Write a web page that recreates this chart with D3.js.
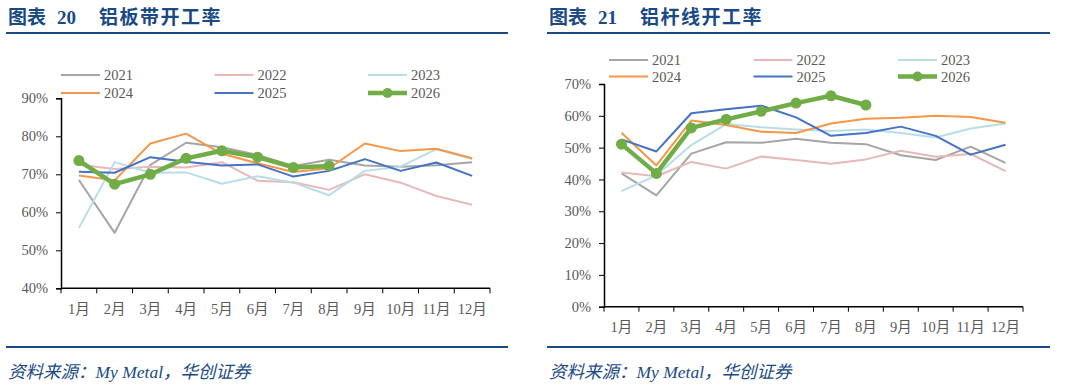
<!DOCTYPE html>
<html>
<head>
<meta charset="utf-8">
<script src="https://cdn.jsdelivr.net/npm/d3@7"></script>
<style>
  body { margin: 0; background: #fff; }
  svg text { font-family: "Liberation Serif", "Noto Sans CJK SC", serif; }
</style>
</head>
<body>
<div id="chart"></div>
<script>
// months on the x axis
const months = ["1月", "2月", "3月", "4月", "5月", "6月", "7月", "8月", "9月", "10月", "11月", "12月"];
const years = ["2021", "2022", "2023", "2024", "2025", "2026"];
const colors = ["#A5A5A5", "#E6B9B8", "#B7DEE8", "#F79646", "#4472C4", "#70AD47"];

// 图表20 铝板带开工率 (%)
const sheet2021 = [68.5, 54.6, 72.5, 78.3, 77.1, 75.1, 72.2, 73.8, 72.3, 72.0, 72.4, 73.2];
const sheet2022 = [72.5, 71.4, 72.0, 71.8, 73.2, 68.3, 67.9, 65.9, 70.0, 67.8, 64.3, 62.0];
const sheet2023 = [55.9, 73.2, 70.4, 70.5, 67.5, 69.5, 67.8, 64.5, 70.9, 72.0, 76.6, 74.0];
const sheet2024 = [69.7, 68.4, 78.1, 80.7, 75.4, 72.9, 70.6, 71.6, 78.1, 76.1, 76.7, 74.2];
const sheet2025 = [70.7, 70.4, 74.5, 73.3, 72.3, 72.6, 69.4, 70.9, 74.0, 70.9, 73.1, 69.6];
const sheet2026 = [73.6, 67.4, 70.0, 74.2, 76.2, 74.5, 71.8, 72.2];

// 图表21 铝杆线开工率 (%)
const rod2021 = [41.9, 35.0, 48.1, 51.7, 51.5, 52.8, 51.5, 51.1, 47.6, 46.1, 50.3, 45.2];
const rod2022 = [42.2, 41.0, 45.5, 43.4, 47.2, 46.1, 44.9, 46.3, 49.0, 47.1, 48.0, 42.6];
const rod2023 = [36.3, 41.3, 50.8, 57.4, 56.4, 55.7, 55.2, 55.7, 54.6, 53.2, 56.0, 57.6];
const rod2024 = [54.7, 44.4, 58.5, 57.1, 55.0, 54.6, 57.6, 59.1, 59.4, 60.0, 59.6, 57.8];
const rod2025 = [52.6, 48.8, 60.8, 62.1, 63.2, 59.5, 53.7, 54.6, 56.6, 53.7, 47.8, 50.9];
const rod2026 = [51.1, 41.9, 56.2, 58.9, 61.4, 64.0, 66.3, 63.4];

const sheetTicks = [40, 50, 60, 70, 80, 90];
const rodTicks = [0, 10, 20, 30, 40, 50, 60, 70];

const navy = "#1A4A85";
const grey = "#595959";

const svg = d3.select("#chart").append("svg")
    .attr("width", 1066)
    .attr("height", 388);

function drawPanel(cfg) {
    let g = svg.append("g");

    // header
    g.append("text")
        .attr("x", cfg.titleX).attr("y", 24)
        .attr("fill", navy).attr("font-size", 19).attr("font-weight", "bold")
        .text("图表");
    g.append("text")
        .attr("x", cfg.titleX + 49).attr("y", 24)
        .attr("fill", navy).attr("font-size", 19).attr("font-weight", "bold")
        .text(cfg.titleNo);
    g.append("text")
        .attr("x", cfg.titleX + 91).attr("y", 24)
        .attr("fill", navy).attr("font-size", 19).attr("font-weight", "bold")
        .attr("letter-spacing", 1.5)
        .text(cfg.title);
    g.append("line")
        .attr("x1", cfg.ruleX0).attr("x2", cfg.ruleX1)
        .attr("y1", 33).attr("y2", 33)
        .attr("stroke", navy).attr("stroke-width", 2);
    g.append("line")
        .attr("x1", cfg.ruleX0).attr("x2", cfg.ruleX1)
        .attr("y1", 347).attr("y2", 347)
        .attr("stroke", navy).attr("stroke-width", 2);
    g.append("text")
        .attr("x", cfg.titleX).attr("y", 378)
        .attr("fill", navy).attr("font-size", 17.5).attr("font-style", "italic")
        .text("资料来源：My Metal，华创证券");

    let x = d3.scaleBand().domain(months).range([cfg.x0, cfg.x1]);
    let y = d3.scaleLinear().domain(cfg.domain).range([cfg.y0, cfg.y1]);

    // x axis
    let xAxis = g.append("g")
        .attr("transform", "translate(0," + cfg.y0 + ")")
        .call(d3.axisBottom(x).tickSize(0).tickPadding(15));
    xAxis.select(".domain").remove();
    xAxis.selectAll("text").attr("font-size", 14.5).attr("fill", grey)
        .attr("font-family", "'Liberation Serif','Noto Sans CJK SC',serif");
    xAxis.append("line")
        .attr("x1", cfg.x0).attr("x2", cfg.x1)
        .attr("stroke", "#000").attr("stroke-width", 1.5);
    xAxis.selectAll("line.tk")
        .data(d3.range(13))
        .enter().append("line")
        .attr("class", "tk")
        .attr("x1", (d) => cfg.x0 + d * x.step())
        .attr("x2", (d) => cfg.x0 + d * x.step())
        .attr("y1", 0).attr("y2", 5)
        .attr("stroke", "#000").attr("stroke-width", 1);

    // y axis
    let yAxis = g.append("g")
        .attr("transform", "translate(" + cfg.x0 + ",0)")
        .call(d3.axisLeft(y).tickValues(cfg.ticks).tickSize(5).tickPadding(8)
            .tickFormat((d) => d + "%"));
    yAxis.select(".domain").attr("stroke", "#000").attr("stroke-width", 1.5);
    yAxis.selectAll(".tick line").attr("stroke", "#000");
    yAxis.selectAll("text").attr("font-size", 14.5).attr("fill", grey)
        .attr("font-family", "'Liberation Serif',serif");

    // lines
    let line = d3.line()
        .x((d, i) => x(months[i]) + x.bandwidth() / 2)
        .y((d) => y(d));

    cfg.series.forEach((s, k) => {
        let last = k === cfg.series.length - 1;
        g.append("path")
            .datum(s)
            .attr("fill", "none")
            .attr("stroke", colors[k])
            .attr("stroke-width", last ? 4.5 : 2)
            .attr("stroke-linejoin", "round")
            .attr("d", line);
        if (last) {
            g.selectAll("circle.pt")
                .data(s)
                .enter().append("circle")
                .attr("class", "pt")
                .attr("cx", (d, i) => x(months[i]) + x.bandwidth() / 2)
                .attr("cy", (d) => y(d))
                .attr("r", 5.5)
                .attr("fill", colors[k]);
        }
    });

    // legend, 3 columns x 2 rows
    years.forEach((yr, k) => {
        let col = k % 3, row = Math.floor(k / 3);
        let lx = cfg.legX + col * cfg.legStep;
        let ly = cfg.legY + row * cfg.legRow;
        let last = k === years.length - 1;
        g.append("line")
            .attr("x1", lx).attr("x2", lx + 39)
            .attr("y1", ly).attr("y2", ly)
            .attr("stroke", colors[k])
            .attr("stroke-width", last ? 4.5 : 2);
        if (last) {
            g.append("circle")
                .attr("cx", lx + 19.5).attr("cy", ly).attr("r", 5)
                .attr("fill", colors[k]);
        }
        g.append("text")
            .attr("x", lx + 43).attr("y", ly + 5)
            .attr("font-size", 14.5).attr("fill", grey)
            .text(yr);
    });
}

drawPanel({
    titleX: 8, titleNo: "20", title: "铝板带开工率",
    ruleX0: 6, ruleX1: 508,
    x0: 61, x1: 490, y0: 288.3, y1: 98.3, domain: [40, 90], ticks: sheetTicks,
    series: [sheet2021, sheet2022, sheet2023, sheet2024, sheet2025, sheet2026],
    legX: 61, legY: 75, legStep: 153.5, legRow: 18
});

drawPanel({
    titleX: 549, titleNo: "21", title: "铝杆线开工率",
    ruleX0: 547, ruleX1: 1050,
    x0: 604, x1: 1023, y0: 306.7, y1: 84, domain: [0, 70], ticks: rodTicks,
    series: [rod2021, rod2022, rod2023, rod2024, rod2025, rod2026],
    legX: 609, legY: 60, legStep: 144.5, legRow: 16.5
});
</script>
</body>
</html>
